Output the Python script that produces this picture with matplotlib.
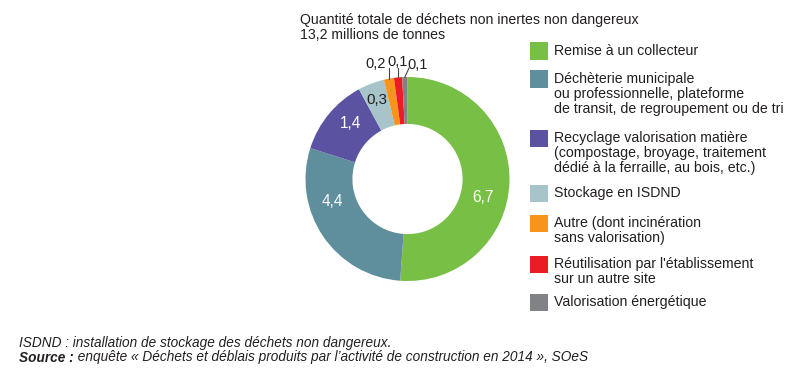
import matplotlib
matplotlib.use("Agg")
import matplotlib.pyplot as plt
import numpy as np
from matplotlib.patches import Rectangle

plt.rcParams['font.family'] = ['Liberation Sans', 'DejaVu Sans']

# ---- data ----
categories = [
    "Remise à un collecteur",
    "Déchèterie municipale\nou professionnelle, plateforme\nde transit, de regroupement ou de tri",
    "Recyclage valorisation matière\n(compostage, broyage, traitement\ndédié à la ferraille, au bois, etc.)",
    "Stockage en ISDND",
    "Autre (dont incinération\nsans valorisation)",
    "Réutilisation par l'établissement\nsur un autre site",
    "Valorisation énergétique",
]
values = [6.7, 4.4, 1.4, 0.3, 0.2, 0.1, 0.1]           # millions of tonnes (labels)
value_labels = ["6,7", "4,4", "1,4", "0,3", "0,2", "0,1", "0,1"]
# slice sizes as drawn in the reference (small slices are widened)
slice_sizes = [6.74, 3.79, 1.61, 0.55, 0.21, 0.17, 0.11]
colors = ["#77BF45", "#5F8E9C", "#5B53A1", "#A7C4CA", "#F7941E", "#ED1C24", "#808285"]
title_lines = ["Quantité totale de déchets non inertes non dangereux",
               "13,2 millions de tonnes"]
note_line = "ISDND : installation de stockage des déchets non dangereux."
source_bold = "Source :"
source_rest = " enquête « Déchets et déblais produits par l’activité de construction en 2014 », SOeS"

W, H = 800, 384
TXT = "#231F20"
FS = 10.2

fig = plt.figure(figsize=(W / 100, H / 100), dpi=100)

def fx(px):
    return px / W

def fy(py):
    return 1 - py / H

# ---- donut ----
cx, cy, R = 407.5, 179, 102
ax = fig.add_axes([fx(cx - R), fy(cy + R), 2 * R / W, 2 * R / H])
wedges, _ = ax.pie(slice_sizes, colors=colors, startangle=90, counterclock=False,
                   radius=1.0, wedgeprops=dict(width=0.46, linewidth=0))
ax.set_xlim(-1, 1)
ax.set_ylim(-1, 1)
ax.set_aspect('equal')
ax.axis('off')

label_pos = [(0.74, -0.18), (-0.74, -0.22), (-0.56, 0.54), (-0.30, 0.77),
             (-0.31, 1.13), (-0.093, 1.15), (0.10, 1.12)]
label_col = ["white", "white", "white", TXT, TXT, TXT, TXT]
label_fs = [11.2, 11.2, 11.2, 10.8, 10.5, 10.5, 10.5]
for lab, (x, y), c, s in zip(value_labels, label_pos, label_col, label_fs):
    ax.text(x, y, lab, ha='center', va='center', color=c, fontsize=s)

# leader lines for the small slices
ends_dx = [0.0, 0.0, 0.04]
for w, dx in zip(wedges[4:], ends_dx):
    mid = np.deg2rad((w.theta1 + w.theta2) / 2)
    x0, y0 = np.cos(mid), np.sin(mid)
    ax.plot([x0, x0 + dx], [y0, 1.085], color="#444444", lw=0.8, clip_on=False)

# ---- title ----
fig.text(fx(300), fy(20), title_lines[0], ha='left', va='center', fontsize=FS, color=TXT)
fig.text(fx(300), fy(35), title_lines[1], ha='left', va='center', fontsize=FS, color=TXT)

# ---- legend ----
legend_first_y = [51, 79, 138, 193, 223, 264, 302]
line_gap = 15
for cat, col, y in zip(categories, colors, legend_first_y):
    fig.patches.append(Rectangle((fx(530), fy(y + 8.5)), 18 / W, 17 / H,
                                 transform=fig.transFigure, facecolor=col, edgecolor='none'))
    for i, line in enumerate(cat.split("\n")):
        fig.text(fx(554), fy(y + i * line_gap), line, ha='left', va='center',
                 fontsize=FS, color=TXT)

# ---- footnote ----
FN = 9.8
fig.text(fx(19), fy(343.5), note_line, ha='left', va='center', fontsize=FN,
         style='italic', color=TXT)
t = fig.text(fx(19), fy(357.5), source_bold, ha='left', va='center', fontsize=FN,
             style='italic', weight='bold', color=TXT)
r = fig.canvas.get_renderer()
bb = t.get_window_extent(renderer=r)
fig.text(bb.x1 / W, fy(357.5), source_rest, ha='left', va='center', fontsize=FN,
         style='italic', color=TXT)

fig.savefig("out.png", dpi=100)
